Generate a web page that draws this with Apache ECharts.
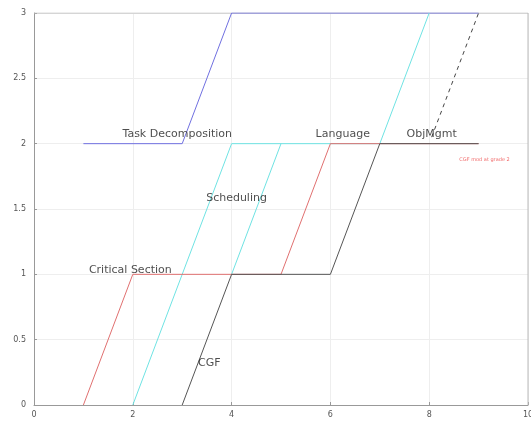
<!DOCTYPE html>
<html>
<head>
<meta charset="utf-8">
<script src="https://cdn.jsdelivr.net/npm/echarts@6/dist/echarts.min.js"></script>
<style>
html, body { margin: 0; padding: 0; background: #fff; }
#chart { width: 531px; height: 425px; }
</style>
</head>
<body>
<div id="chart"></div>
<script>
// path points [x, y]
const blueLine = [[1, 2], [3, 2], [4, 3], [9, 3]]
const redLine = [[1, 0], [2, 1], [5, 1], [6, 2], [9, 2]]
const cyanLine = [[2, 0], [4, 2], [7, 2], [8, 3]]
const cyanLine2 = [[4, 1], [5, 2]]
const blackLine = [[3, 0], [4, 1], [6, 1], [7, 2], [9, 2]]
const dashedLine = [[8.05, 2.05], [9, 3]]

// text labels [x, y, text]
const labels = [
    [2.9, 2.07, 'Task Decomposition'],
    [4.1, 1.58, 'Scheduling'],
    [1.95, 1.03, 'Critical Section'],
    [3.55, 0.32, 'CGF'],
    [6.25, 2.07, 'Language'],
    [8.05, 2.07, 'ObjMgmt']
]
const noteLabel = [[9.12, 1.88, 'CGF mod at grade 2']]

const xTicks = [0, 2, 4, 6, 8, 10]
const yTicks = [0, 0.5, 1, 1.5, 2, 2.5, 3]

const chart = echarts.init(document.getElementById('chart'))

const lineSeries = (data, color, dashed) => ({
    type: 'line',
    data,
    symbol: 'none',
    silent: true,
    lineStyle: { color, width: 1, type: dashed ? [4, 4] : 'solid' },
    z: 3
})

const textSeries = (data, color, size) => ({
    type: 'scatter',
    data,
    symbolSize: 0,
    silent: true,
    label: {
        show: true,
        position: 'inside',
        formatter: p => p.data[2],
        color,
        fontSize: size,
        fontFamily: 'DejaVu Sans'
    },
    z: 5
})

const option = {
    animation: false,
    backgroundColor: '#fff',
    grid: { left: 34, right: 3, top: 13, bottom: 20, outerBoundsMode: 'none', containLabel: false },
    xAxis: {
        type: 'value',
        min: 0,
        max: 10,
        interval: 2,
        axisLine: { show: true, onZero: false, lineStyle: { color: '#999' } },
        axisTick: { show: true, inside: true, length: 3, lineStyle: { color: '#999' } },
        axisLabel: { color: '#555', fontSize: 8, margin: 6, fontFamily: 'DejaVu Sans',
            formatter: v => xTicks.includes(v) ? String(v) : '' },
        splitLine: { show: true, lineStyle: { color: '#eee' } }
    },
    yAxis: {
        type: 'value',
        min: 0,
        max: 3,
        interval: 0.5,
        axisLine: { show: true, onZero: false, lineStyle: { color: '#999' } },
        axisTick: { show: true, inside: true, length: 3, lineStyle: { color: '#999' } },
        axisLabel: { color: '#555', fontSize: 8, margin: 8, fontFamily: 'DejaVu Sans',
            formatter: v => yTicks.includes(v) ? String(v) : '' },
        splitLine: { show: true, lineStyle: { color: '#eee' } }
    },
    series: [
        // top/right frame
        {
            type: 'line', data: [[0, 3], [10, 3], [10, 0]], symbol: 'none', silent: true,
            lineStyle: { color: '#bbb', width: 1 }, z: 1
        },
        lineSeries(blueLine, '#7070e0'),
        lineSeries(cyanLine, '#6fe3e3'),
        lineSeries(cyanLine2, '#6fe3e3'),
        lineSeries(redLine, '#e07070'),
        lineSeries(blackLine, '#555'),
        lineSeries(dashedLine, '#444', true),
        textSeries(labels, '#222', 11),
        textSeries(noteLabel, '#ee4444', 5)
    ]
}

chart.setOption(option)
</script>
</body>
</html>
